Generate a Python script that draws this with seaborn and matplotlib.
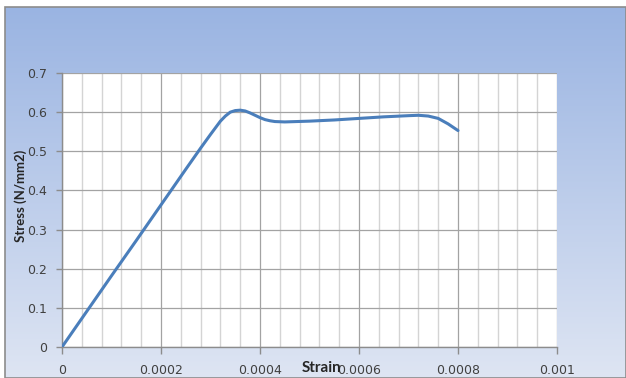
import numpy as np
import matplotlib
matplotlib.use("Agg")
import matplotlib.pyplot as plt
from matplotlib.patches import Rectangle
import seaborn as sns

# Stress-strain readings
strain = [0.0, 0.00005, 0.0001, 0.00015, 0.0002, 0.00025, 0.00028, 0.00030,
          0.00032, 0.00033, 0.00034, 0.00035, 0.00036, 0.00037, 0.00038,
          0.00039, 0.00040, 0.00041, 0.00042, 0.00043, 0.00045, 0.00050,
          0.00055, 0.00060, 0.00065, 0.00070, 0.00072, 0.00074, 0.00076,
          0.00078, 0.00080]
stress = [0.0, 0.091, 0.182, 0.272, 0.363, 0.454, 0.508, 0.543,
          0.577, 0.590, 0.600, 0.604, 0.605, 0.603, 0.598,
          0.592, 0.586, 0.581, 0.578, 0.576, 0.575, 0.577,
          0.580, 0.584, 0.588, 0.591, 0.592, 0.590, 0.584,
          0.570, 0.553]

x_ticks = [0, 0.0002, 0.0004, 0.0006, 0.0008, 0.001]
x_tick_labels = ["0", "0.0002", "0.0004", "0.0006", "0.0008", "0.001"]
y_ticks = [0, 0.1, 0.2, 0.3, 0.4, 0.5, 0.6, 0.7]
y_tick_labels = ["0", "0.1", "0.2", "0.3", "0.4", "0.5", "0.6", "0.7"]

sns.set_theme(style="white")
plt.rcParams["font.family"] = ["DejaVu Sans"]

W, H = 626, 378
fig = plt.figure(figsize=(W / 100, H / 100), dpi=100)
fig.patch.set_facecolor("white")

# Gradient backdrop of the chart area
bg = fig.add_axes([5 / W, 0, (W - 5) / W, (H - 7) / H])
bg.set_axis_off()
top = np.array([154, 180, 226]) / 255
bottom = np.array([222, 229, 243]) / 255
t = np.linspace(0, 1, 256)[:, None]
grad = top[None, :] * (1 - t) + bottom[None, :] * t
grad = np.repeat(grad[:, None, :], 2, axis=1)
bg.imshow(grad, aspect="auto", extent=[0, 1, 0, 1], origin="upper")
bg.add_patch(Rectangle((0, 0), 1, 1, transform=bg.transAxes, fill=False,
                       edgecolor="#8c8c8c", linewidth=1.2, clip_on=False))
bg.set_xlim(0, 1)
bg.set_ylim(0, 1)

x0, x1, y0, y1 = 62, 557, 73, 347
ax = fig.add_axes([x0 / W, (H - y1) / H, (x1 - x0) / W, (y1 - y0) / H])
ax.set_facecolor("white")

sns.lineplot(x=strain, y=stress, ax=ax, color="#4a7ebb", linewidth=2.2,
             sort=False, zorder=5)

ax.set_xlim(0, 0.001)
ax.set_ylim(0, 0.7)
ax.set_xticks(x_ticks)
ax.set_xticklabels(x_tick_labels)
ax.set_yticks(y_ticks)
ax.set_yticklabels(y_tick_labels)
ax.set_xticks(np.arange(0, 0.001 + 1e-9, 0.00004), minor=True)

ax.grid(True, which="major", axis="both", color="#a3a3a3", linewidth=0.9)
ax.grid(True, which="minor", axis="x", color="#d4d4d4", linewidth=1.0)
ax.set_axisbelow(True)

for s in ["top", "right"]:
    ax.spines[s].set_visible(False)
for s in ["left", "bottom"]:
    ax.spines[s].set_color("#8c8c8c")
    ax.spines[s].set_linewidth(1.0)

ax.tick_params(axis="x", which="major", direction="out", length=5, width=1,
               color="#8c8c8c", labelsize=9, labelcolor="#404040", pad=7,
               bottom=True)
ax.tick_params(axis="x", which="minor", length=0)
ax.tick_params(axis="y", which="major", direction="out", length=4, width=1,
               color="#8c8c8c", labelsize=9, labelcolor="#404040", pad=7,
               left=True)

ax.set_xlabel("")
ax.set_ylabel("")
fig.text(322 / W, 1 - 368 / H, "Strain", ha="center", va="center",
         fontsize=11, fontweight="bold", color="#262626", family="Lato")
fig.text(21 / W, 1 - 196 / H, "Stress (N/mm2)", ha="center", va="center",
         rotation=90, fontsize=9.5, fontweight="bold", color="#262626",
         family="Lato")

fig.savefig("out.png", dpi=100)
